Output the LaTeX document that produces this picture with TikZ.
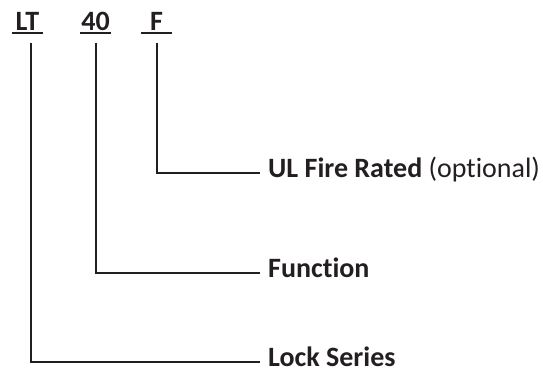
\documentclass[tikz,border=0pt]{standalone}
\usepackage{fontspec}
\setmainfont{Carlito}[Ligatures={NoCommon}, Contextuals={NoAlternate}]
\usetikzlibrary{positioning}
\definecolor{ink}{HTML}{231F20}

\begin{document}
\begin{tikzpicture}[x=1pt, y=-1pt,
  code/.style={font=\bfseries\fontsize{28}{28}\selectfont, text=ink, anchor=base,
    inner xsep=0pt, inner ysep=2.7pt, text depth=0pt, minimum width=31pt},
  tag/.style={font=\fontsize{28}{28}\selectfont, text=ink, anchor=west,
    inner xsep=8pt, inner ysep=0pt, text height=8pt, text depth=0pt},
  link/.style={draw=ink, line width=2.2pt},
  uline/.style={draw=ink, line width=1.6pt}]

% Frame
\useasboundingbox (0,0) rectangle (543,372);

% Parameters
\def\top{42.7}
\def\stop{260}

% Model code
\node[code] (lt) at (27.5,30) {LT};
\node[code] (num) at (95.5,30) {40};
\node[code] (fr) at (156.5,30) {F};
\foreach \n in {lt,num,fr}
  \draw[uline] (\n.south west) -- (\n.south east);

% Feet of the leaders
\coordinate (lt-foot) at (31,\top);
\coordinate (num-foot) at (96,\top);
\coordinate (fr-foot) at (157,\top);

% Meanings
\node[tag] (fire) at (\stop,173) {\textbf{UL Fire Rated} (optional)};
\node[tag] (func) at (\stop,273) {\textbf{Function}};
\node[tag] (series) at (\stop,362) {\textbf{Lock Series}};

% Leaders
\draw[link] (fr-foot) |- (fire.west);
\draw[link] (num-foot) |- (func.west);
\draw[link] (lt-foot) |- (series.west);

\end{tikzpicture}
\end{document}
